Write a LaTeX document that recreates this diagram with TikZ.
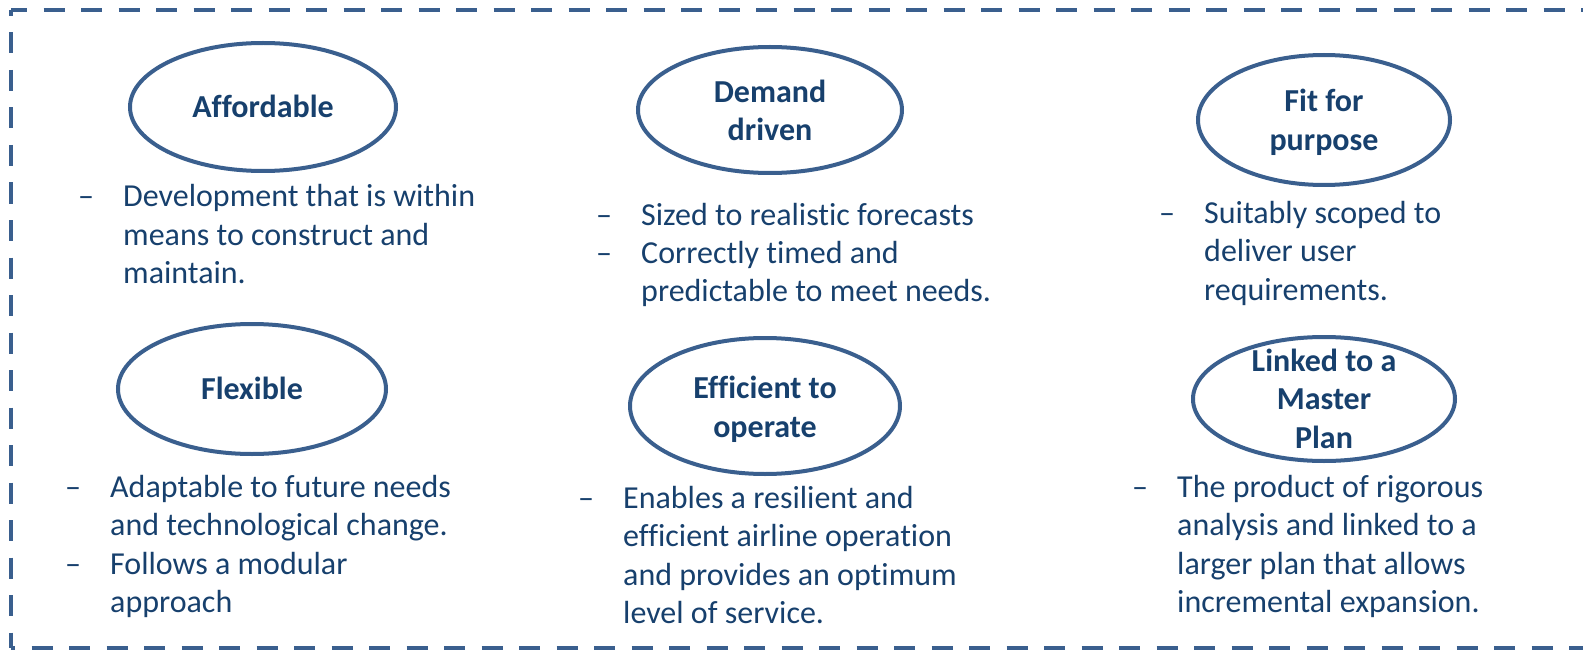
\documentclass[tikz,border=0pt]{standalone}
\usepackage{fontspec}
\setmainfont{Carlito}[Ligatures=NoCommon]
\usetikzlibrary{shapes.geometric}
\definecolor{inkc}{HTML}{17406D}
\definecolor{ovalc}{HTML}{3A5F8E}
\newcommand{\headfont}{\fontsize{32}{38.5}\selectfont\bfseries}
\newcommand{\itemfont}{\fontsize{32}{38.5}\selectfont}
\newcommand{\ptlist}[1]{\begin{tabular}[t]{@{}p{45pt}@{}l@{}}#1\end{tabular}}

\begin{document}
\begin{tikzpicture}[x=1pt, y=-1pt,
  oval/.style={draw=ovalc, line width=4pt, ellipse, inner sep=0pt},
  head/.style={font=\headfont, text=inkc, align=center, anchor=base, inner sep=0pt},
  items/.style={font=\itemfont, text=inkc, anchor=base west, inner sep=0pt},
  frame/.style={draw=ovalc, line width=3.5pt, dash pattern=on 21pt off 16.5pt}
]
  \useasboundingbox (0,0) rectangle (1583,650);

  % dashed frame, open on the right
  \coordinate (tl) at (11,10);
  \coordinate (bl) at (11,648);
  \coordinate (tr) at (1590,10);
  \coordinate (br) at (1590,648);
  \draw[frame, dash phase=5pt] (tl) -- (tr);
  \draw[frame, dash phase=15pt] (tl) -- (bl);
  \draw[frame, dash phase=17pt] (bl) -- (br);

  % top row
  \node[oval, minimum width=266pt, minimum height=128pt] (afford oval) at (263,107) {};
  \node[head] (afford) at (263,118) {Affordable};
  \node[items] (afford list) at (78,207)
    {\ptlist{--&Development that is within\\&means to construct and\\&maintain.}};

  \node[oval, minimum width=264pt, minimum height=126pt] (demand oval) at (770,110) {};
  \node[head] (demand) at (770,141) {Demand\\driven};
  \node[items] (demand list) at (596,225)
    {\ptlist{--&Sized to realistic forecasts\\--&Correctly timed and\\&predictable to meet needs.}};

  \node[oval, minimum width=252pt, minimum height=130pt] (fit oval) at (1324,120) {};
  \node[head] (fit) at (1324,150) {Fit for\\purpose};
  \node[items] (fit list) at (1159,223)
    {\ptlist{--&Suitably scoped to\\&deliver user\\&requirements.}};

  % bottom row
  \node[oval, minimum width=268pt, minimum height=130pt] (flex oval) at (252,389) {};
  \node[head] (flex) at (252,399) {Flexible};
  \node[items] (flex list) at (65,497)
    {\ptlist{--&Adaptable to future needs\\&and technological change.\\--&Follows a modular\\&approach}};

  \node[oval, minimum width=270pt, minimum height=136pt] (effic oval) at (765,406) {};
  \node[head] (effic) at (765,437) {Efficient to\\operate};
  \node[items] (effic list) at (578,508)
    {\ptlist{--&Enables a resilient and\\&efficient airline operation\\&and provides an optimum\\&level of service.}};

  \node[oval, minimum width=262pt, minimum height=124pt] (master oval) at (1324,399) {};
  \node[head] (master) at (1324,448) {Linked to a\\Master\\Plan};
  \node[items] (master list) at (1132,497)
    {\ptlist{--&The product of rigorous\\&analysis and linked to a\\&larger plan that allows\\&incremental expansion.}};
\end{tikzpicture}
\end{document}
